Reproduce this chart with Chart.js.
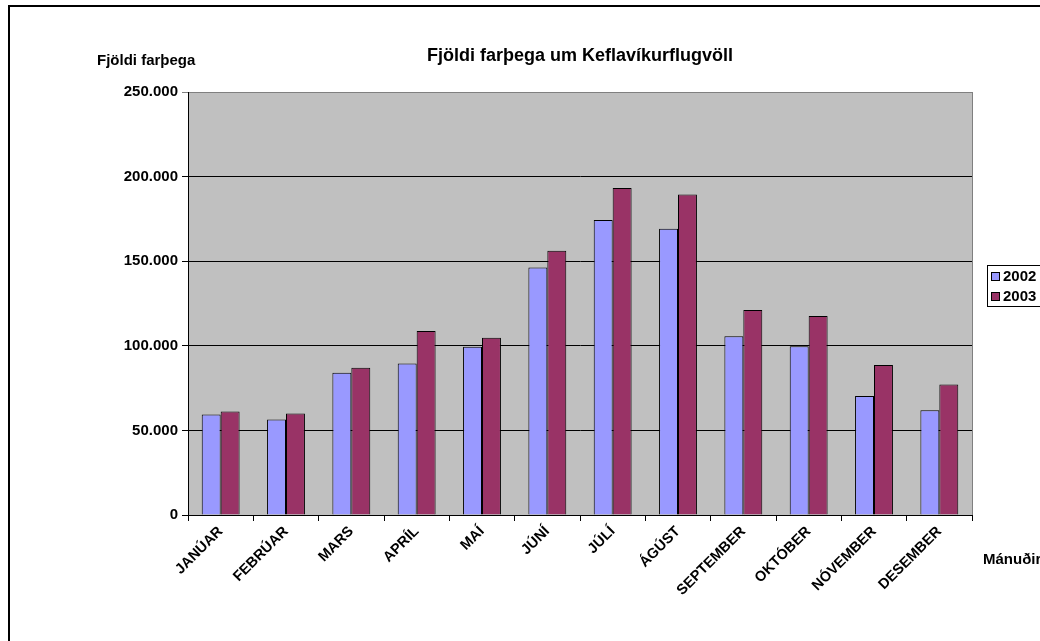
<!DOCTYPE html>
<html>
<head>
<meta charset="utf-8">
<script src="https://cdn.jsdelivr.net/npm/chart.js@4/dist/chart.umd.min.js"></script>
<style>
  html, body { margin: 0; padding: 0; background: #fff; overflow: hidden; }
  canvas { display: block; }
</style>
</head>
<body>
<canvas id="myChart" width="1100" height="641"></canvas>
<script>
const months = ['JANÚAR', 'FEBRÚAR', 'MARS', 'APRÍL', 'MAÍ', 'JÚNÍ', 'JÚLÍ', 'ÁGÚST', 'SEPTEMBER', 'OKTÓBER', 'NÓVEMBER', 'DESEMBER'];
const pass2002 = [59400, 56500, 84000, 89500, 99500, 146300, 174300, 169200, 105600, 99700, 70400, 61900];
const pass2003 = [61200, 60000, 87100, 108800, 104800, 156200, 193200, 189400, 121200, 117600, 88700, 77100];
const chartTitle = 'Fjöldi farþega um Keflavíkurflugvöll';
const yTitle = 'Fjöldi farþega';
const xTitle = 'Mánuðir';

const fontFam = 'Arial, "Liberation Sans", sans-serif';
const fmt = v => String(v).replace(/\B(?=(\d{3})+(?!\d))/g, '.');

const decor = {
  id: 'decor',
  beforeDraw(chart) {
    const ctx = chart.ctx;
    const a = chart.chartArea;
    ctx.save();
    ctx.fillStyle = '#fff';
    ctx.fillRect(0, 0, chart.width, chart.height);
    // outer frame
    ctx.strokeStyle = '#000';
    ctx.lineWidth = 2;
    ctx.strokeRect(9, 6, 1060, 700);
    // plot area
    ctx.fillStyle = '#c0c0c0';
    ctx.fillRect(a.left, a.top, a.right - a.left, a.bottom - a.top);
    ctx.strokeStyle = '#808080';
    ctx.lineWidth = 1;
    ctx.strokeRect(a.left + 0.5, a.top + 0.5, a.right - a.left, a.bottom - a.top);
    ctx.restore();
  },
  afterDraw(chart) {
    const ctx = chart.ctx;
    const a = chart.chartArea;
    ctx.save();
    ctx.fillStyle = '#000';
    ctx.textBaseline = 'middle';
    ctx.font = 'bold 18px ' + fontFam;
    ctx.textAlign = 'center';
    ctx.fillText(chartTitle, (a.left + a.right) / 2, 56);
    ctx.font = 'bold 15px ' + fontFam;
    ctx.textAlign = 'left';
    ctx.fillText(yTitle, 97, 61);
    ctx.fillText(xTitle, 983, 560);
    // legend
    ctx.strokeStyle = '#000';
    ctx.lineWidth = 1;
    ctx.strokeRect(987.5, 265.5, 80, 41);
    chart.data.datasets.forEach((ds, i) => {
      const y = 276 + i * 20;
      ctx.fillStyle = ds.backgroundColor;
      ctx.fillRect(991, y - 4, 9, 9);
      ctx.strokeRect(991.5, y - 3.5, 8, 8);
      ctx.fillStyle = '#000';
      ctx.fillText(ds.label, 1003, y + 1);
    });
    ctx.restore();
  }
};

new Chart(document.getElementById('myChart'), {
  type: 'bar',
  data: {
    labels: months,
    datasets: [
      {
        label: '2002',
        data: pass2002,
        backgroundColor: '#9999ff',
        borderColor: '#000',
        borderWidth: 1,
        categoryPercentage: 0.58,
        barPercentage: 1.0
      },
      {
        label: '2003',
        data: pass2003,
        backgroundColor: '#993366',
        borderColor: '#000',
        borderWidth: 1,
        categoryPercentage: 0.58,
        barPercentage: 1.0
      }
    ]
  },
  options: {
    responsive: false,
    animation: false,
    layout: { padding: { left: 0, top: 92, right: 128, bottom: 0 } },
    plugins: {
      legend: { display: false },
      title: { display: false },
      tooltip: { enabled: false }
    },
    scales: {
      x: {
        afterFit(scale) { scale.height = 126; },
        grid: { drawOnChartArea: false, offset: true, color: '#000', tickLength: 6 },
        border: { color: '#000' },
        ticks: {
          color: '#000',
          minRotation: 45,
          maxRotation: 45,
          padding: 2,
          font: { family: fontFam, size: 14.5, weight: 'bold' }
        }
      },
      y: {
        min: 0,
        max: 250000,
        afterFit(scale) { scale.width = 188; },
        grid: {
          color: c => (c.tick && c.tick.value === 250000 ? '#808080' : '#000'),
          tickLength: 6
        },
        border: { color: '#000' },
        ticks: {
          stepSize: 50000,
          color: '#000',
          padding: 4,
          callback: v => fmt(v),
          font: { family: fontFam, size: 15, weight: 'bold' }
        }
      }
    }
  },
  plugins: [decor]
});
</script>
</body>
</html>
